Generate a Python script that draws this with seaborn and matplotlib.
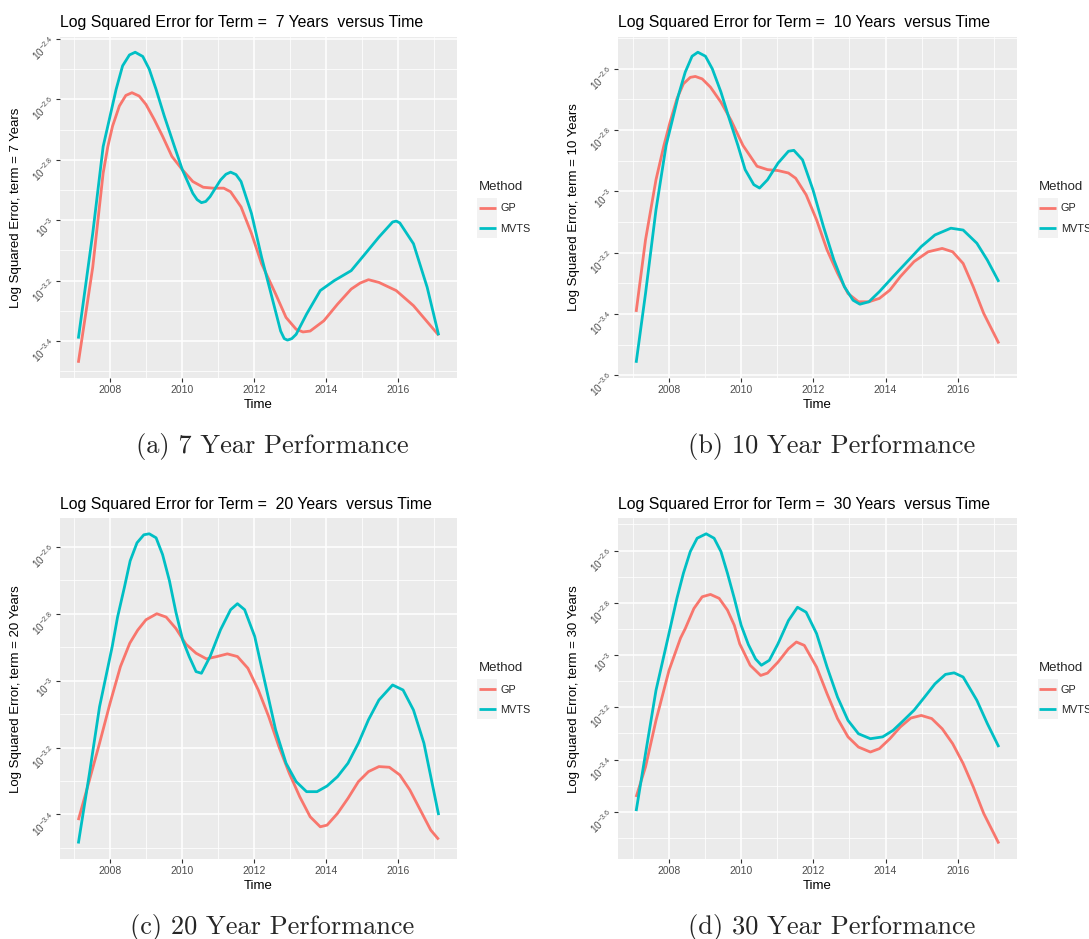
import numpy as np
import pandas as pd
import matplotlib
matplotlib.use('Agg')
import matplotlib.pyplot as plt
import seaborn as sns
from matplotlib.ticker import MultipleLocator, FuncFormatter
from matplotlib.patches import Rectangle
from matplotlib.transforms import IdentityTransform

# ---- data (x = year, y = log10 squared error) ----
a_gp_x = [2007.12, 2007.52, 2007.81, 2007.94, 2008.07, 2008.26, 2008.44, 2008.61, 2008.81, 2009.00,
          2009.23, 2009.46, 2009.72, 2010.01, 2010.30, 2010.59, 2010.87, 2011.16, 2011.35, 2011.64,
          2011.93, 2012.21, 2012.60, 2012.89, 2013.17, 2013.36, 2013.56, 2013.94, 2014.32, 2014.70,
          2014.95, 2015.18, 2015.47, 2015.95, 2016.43, 2017.13]
a_gp_y = [-3.472, -3.156, -2.844, -2.756, -2.689, -2.622, -2.587, -2.578, -2.589, -2.617,
          -2.667, -2.722, -2.789, -2.833, -2.872, -2.891, -2.894, -2.894, -2.906, -2.956,
          -3.044, -3.144, -3.244, -3.322, -3.361, -3.370, -3.367, -3.333, -3.278, -3.228,
          -3.208, -3.197, -3.206, -3.233, -3.283, -3.381]
a_mv_x = [2007.12, 2007.52, 2007.81, 2007.98, 2008.17, 2008.35, 2008.54, 2008.70, 2008.91, 2009.09,
          2009.28, 2009.51, 2009.79, 2010.01, 2010.30, 2010.42, 2010.54, 2010.66, 2010.78, 2011.07,
          2011.22, 2011.35, 2011.50, 2011.64, 2011.93, 2012.21, 2012.50, 2012.74, 2012.84, 2012.93,
          2013.05, 2013.17, 2013.46, 2013.84, 2014.23, 2014.70, 2015.09, 2015.47, 2015.85, 2015.95,
          2016.05, 2016.43, 2016.81, 2017.13]
a_mv_y = [-3.392, -3.044, -2.756, -2.667, -2.567, -2.489, -2.453, -2.444, -2.458, -2.500,
          -2.567, -2.656, -2.756, -2.833, -2.911, -2.932, -2.942, -2.938, -2.922, -2.867,
          -2.848, -2.841, -2.849, -2.872, -2.978, -3.122, -3.256, -3.367, -3.392, -3.397,
          -3.392, -3.378, -3.311, -3.233, -3.200, -3.167, -3.111, -3.056, -3.006, -3.003,
          -3.009, -3.078, -3.222, -3.381]

b_gp_x = [2007.09, 2007.35, 2007.64, 2007.86, 2008.03, 2008.22, 2008.40, 2008.59, 2008.73, 2008.92,
          2009.15, 2009.44, 2009.72, 2010.05, 2010.44, 2010.73, 2011.02, 2011.31, 2011.51, 2011.80,
          2012.09, 2012.38, 2012.67, 2012.96, 2013.25, 2013.54, 2013.83, 2014.12, 2014.41, 2014.79,
          2015.18, 2015.57, 2015.86, 2016.15, 2016.43, 2016.72, 2017.14]
b_gp_y = [-3.393, -3.158, -2.962, -2.850, -2.774, -2.698, -2.649, -2.628, -2.625, -2.633,
          -2.660, -2.709, -2.768, -2.850, -2.918, -2.929, -2.932, -2.940, -2.957, -3.011,
          -3.093, -3.191, -3.267, -3.333, -3.360, -3.360, -3.349, -3.322, -3.278, -3.229,
          -3.197, -3.186, -3.197, -3.235, -3.311, -3.398, -3.496]
b_mv_x = [2007.09, 2007.35, 2007.64, 2007.92, 2008.08, 2008.26, 2008.45, 2008.64, 2008.80, 2009.01,
          2009.20, 2009.44, 2009.67, 2009.91, 2010.11, 2010.35, 2010.51, 2010.73, 2011.02, 2011.31,
          2011.46, 2011.70, 2011.99, 2012.28, 2012.57, 2012.86, 2013.10, 2013.29, 2013.54, 2013.83,
          2014.21, 2014.60, 2014.99, 2015.37, 2015.81, 2016.15, 2016.53, 2016.82, 2017.14]
b_mv_y = [-3.559, -3.333, -3.060, -2.850, -2.774, -2.687, -2.611, -2.559, -2.546, -2.559,
          -2.600, -2.676, -2.763, -2.850, -2.929, -2.978, -2.989, -2.962, -2.908, -2.869,
          -2.866, -2.897, -2.995, -3.115, -3.224, -3.311, -3.355, -3.368, -3.360, -3.327,
          -3.278, -3.229, -3.180, -3.142, -3.120, -3.126, -3.169, -3.224, -3.295]

c_gp_x = [2007.12, 2007.43, 2007.71, 2008.00, 2008.29, 2008.55, 2008.77, 2009.00, 2009.30, 2009.56,
          2009.83, 2010.11, 2010.39, 2010.68, 2010.97, 2011.26, 2011.54, 2011.83, 2012.12, 2012.41,
          2012.69, 2012.98, 2013.27, 2013.56, 2013.84, 2014.03, 2014.32, 2014.61, 2014.90, 2015.18,
          2015.47, 2015.76, 2016.05, 2016.33, 2016.62, 2016.91, 2017.13]
c_gp_y = [-3.417, -3.297, -3.187, -3.068, -2.958, -2.888, -2.849, -2.818, -2.800, -2.810,
          -2.844, -2.891, -2.918, -2.935, -2.928, -2.920, -2.928, -2.963, -3.028, -3.108,
          -3.197, -3.277, -3.347, -3.407, -3.437, -3.432, -3.397, -3.352, -3.302, -3.272,
          -3.257, -3.259, -3.282, -3.327, -3.387, -3.447, -3.475]
c_mv_x = [2007.12, 2007.43, 2007.71, 2008.06, 2008.21, 2008.40, 2008.56, 2008.75, 2008.94, 2009.09,
          2009.28, 2009.46, 2009.65, 2009.83, 2010.02, 2010.20, 2010.39, 2010.54, 2010.78, 2011.07,
          2011.35, 2011.54, 2011.74, 2012.02, 2012.31, 2012.60, 2012.89, 2013.17, 2013.46, 2013.75,
          2014.03, 2014.32, 2014.61, 2014.90, 2015.18, 2015.47, 2015.85, 2016.14, 2016.43, 2016.72,
          2017.13]
c_mv_y = [-3.487, -3.277, -3.078, -2.899, -2.810, -2.721, -2.642, -2.588, -2.564, -2.561,
          -2.573, -2.623, -2.701, -2.795, -2.879, -2.928, -2.973, -2.978, -2.928, -2.848,
          -2.788, -2.770, -2.788, -2.868, -3.008, -3.147, -3.247, -3.302, -3.332, -3.332,
          -3.315, -3.287, -3.247, -3.187, -3.117, -3.058, -3.013, -3.028, -3.088, -3.187,
          -3.402]

d_gp_x = [2007.09, 2007.35, 2007.64, 2008.00, 2008.32, 2008.45, 2008.69, 2008.92, 2009.15, 2009.39,
          2009.62, 2009.81, 2009.96, 2010.25, 2010.54, 2010.73, 2011.02, 2011.31, 2011.53, 2011.75,
          2012.09, 2012.38, 2012.67, 2012.96, 2013.25, 2013.58, 2013.83, 2014.12, 2014.41, 2014.70,
          2014.99, 2015.28, 2015.57, 2015.86, 2016.15, 2016.43, 2016.72, 2017.14]
d_gp_y = [-3.543, -3.428, -3.250, -3.059, -2.935, -2.899, -2.822, -2.777, -2.768, -2.783,
          -2.828, -2.886, -2.957, -3.039, -3.078, -3.069, -3.027, -2.976, -2.950, -2.963,
          -3.046, -3.148, -3.243, -3.313, -3.352, -3.371, -3.358, -3.320, -3.275, -3.241,
          -3.231, -3.243, -3.282, -3.339, -3.415, -3.504, -3.606, -3.721]
d_mv_x = [2007.09, 2007.35, 2007.64, 2008.03, 2008.22, 2008.40, 2008.59, 2008.78, 2009.03, 2009.25,
          2009.44, 2009.62, 2009.81, 2010.00, 2010.20, 2010.40, 2010.56, 2010.78, 2011.02, 2011.31,
          2011.56, 2011.80, 2012.09, 2012.38, 2012.67, 2012.96, 2013.25, 2013.58, 2013.92, 2014.21,
          2014.50, 2014.79, 2015.08, 2015.37, 2015.66, 2015.90, 2016.15, 2016.53, 2016.82, 2017.14]
d_mv_y = [-3.597, -3.377, -3.135, -2.899, -2.783, -2.687, -2.604, -2.553, -2.536, -2.553,
          -2.604, -2.687, -2.783, -2.886, -2.960, -3.015, -3.039, -3.020, -2.957, -2.868,
          -2.817, -2.836, -2.918, -3.046, -3.161, -3.250, -3.301, -3.320, -3.313, -3.288,
          -3.250, -3.211, -3.161, -3.110, -3.074, -3.068, -3.084, -3.173, -3.262, -3.352]

terms = ['7', '10', '20', '30']
captions = ['(a) 7 Year Performance', '(b) 10 Year Performance',
            '(c) 20 Year Performance', '(d) 30 Year Performance']
methods = ['GP', 'MVTS']
palette = {'GP': '#F8766D', 'MVTS': '#00BFC4'}

series = [(a_gp_x, a_gp_y, a_mv_x, a_mv_y),
          (b_gp_x, b_gp_y, b_mv_x, b_mv_y),
          (c_gp_x, c_gp_y, c_mv_x, c_mv_y),
          (d_gp_x, d_gp_y, d_mv_x, d_mv_y)]

# ---- layout (pixels) ----
W, H = 1089, 939
boxes = [(60.3, 36.7, 456.7, 378.3), (618, 36.7, 1017, 378.3),
         (60.3, 518.3, 456.7, 859), (618, 518.3, 1017, 859)]
cap_pos = [(272.5, 452.7), (832, 452.7), (272.5, 934), (832, 934)]

sns.set_theme(style='white')
plt.rcParams['font.family'] = ['Liberation Sans', 'DejaVu Sans']
plt.rcParams['mathtext.fontset'] = 'custom'
plt.rcParams['mathtext.rm'] = 'Liberation Sans'
plt.rcParams['mathtext.it'] = 'Liberation Sans:italic'
plt.rcParams['mathtext.bf'] = 'Liberation Sans:bold'

fig = plt.figure(figsize=(W / 100, H / 100), dpi=100)
fig.patch.set_facecolor('white')

legends = []
for i, (gx, gy, mx, my) in enumerate(series):
    l, t, r, b = boxes[i]
    ax = fig.add_axes([l / W, 1 - b / H, (r - l) / W, (b - t) / H])

    df = pd.DataFrame({
        'Time': list(gx) + list(mx),
        'err': list(gy) + list(my),
        'Method': ['GP'] * len(gx) + ['MVTS'] * len(mx),
    })
    sns.lineplot(data=df, x='Time', y='err', hue='Method', hue_order=methods,
                 palette=palette, estimator=None, sort=False, lw=2.0,
                 solid_joinstyle='round', solid_capstyle='butt', ax=ax)

    ax.set_facecolor('#EBEBEB')
    for s in ax.spines.values():
        s.set_visible(False)
    ax.margins(x=0.05, y=0.05)
    ax.xaxis.set_major_locator(MultipleLocator(2))
    ax.xaxis.set_minor_locator(MultipleLocator(1))
    ax.yaxis.set_major_locator(MultipleLocator(0.2))
    ax.yaxis.set_minor_locator(MultipleLocator(0.1))
    ax.yaxis.set_major_formatter(FuncFormatter(lambda v, p: f'$10^{{{round(v, 1):g}}}$'))
    ax.xaxis.set_major_formatter(FuncFormatter(lambda v, p: f'{int(round(v))}'))
    ax.grid(which='major', color='white', lw=1.1)
    ax.grid(which='minor', color='white', lw=0.55)
    ax.set_axisbelow(True)
    ax.tick_params(which='major', length=3, width=0.8, color='#333333',
                   labelcolor='#4D4D4D', labelsize=7.3, pad=2, bottom=True, left=True)
    ax.tick_params(axis='x', labelsize=7.5)
    ax.tick_params(which='minor', length=0)
    ax.tick_params(axis='y', labelrotation=45)
    for lbl in ax.get_yticklabels():
        lbl.set_ha('right')
        lbl.set_va('center')
        lbl.set_rotation_mode('anchor')

    ax.set_title(f'Log Squared Error for Term =  {terms[i]} Years  versus Time',
                 loc='left', fontsize=11.4, pad=7, color='black')
    ax.set_xlabel('Time', fontsize=9.5, color='black')
    ax.set_ylabel(f'Log Squared Error, term = {terms[i]} Years', fontsize=9.5, color='black')
    pw, ph = r - l, b - t
    ax.xaxis.set_label_coords(0.5, -21 / ph)
    ax.yaxis.set_label_coords(-38 / pw, 0.5)

    leg = ax.legend(title='Method', loc='center left', bbox_to_anchor=(1 + 22 / pw, 0.5),
                    frameon=False, fontsize=7.8, title_fontsize=9.5, handlelength=1.6,
                    handletextpad=0.4, labelspacing=0.95, borderpad=0, borderaxespad=0,
                    alignment='left')
    legends.append(leg)

    fig.text(cap_pos[i][0] / W, 1 - cap_pos[i][1] / H, captions[i], ha='center',
             va='baseline', fontsize=19, family='cmr10')

# grey key backgrounds behind legend lines, like ggplot
fig.canvas.draw()
renderer = fig.canvas.get_renderer()
for leg in legends:
    for h in leg.legend_handles:
        bb = h.get_window_extent(renderer)
        cx, cy = (bb.x0 + bb.x1) / 2, (bb.y0 + bb.y1) / 2
        size = 20
        fig.add_artist(Rectangle((cx - size / 2, cy - size / 2), size, size,
                                 transform=IdentityTransform(), facecolor='#F2F2F2',
                                 edgecolor='none', zorder=-1))

fig.savefig('out.png', dpi=100, facecolor='white')
